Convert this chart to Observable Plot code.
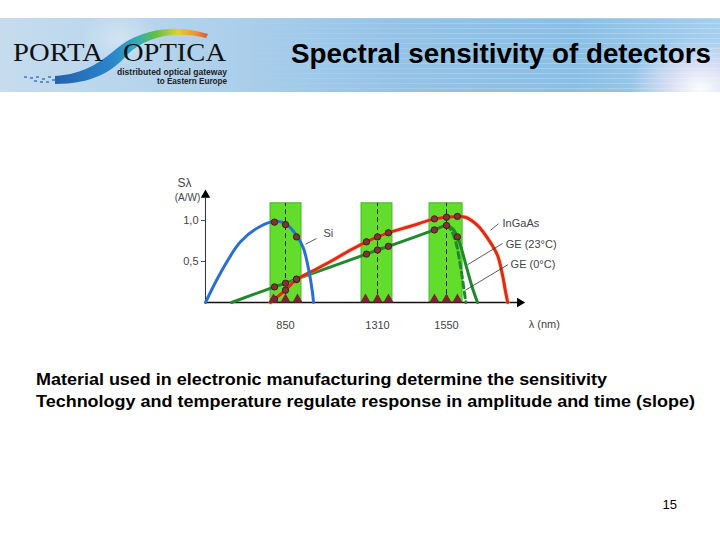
<!DOCTYPE html>
<html>
<head>
<meta charset="utf-8">
<script src="https://cdn.jsdelivr.net/npm/d3@7"></script>
<script src="https://cdn.jsdelivr.net/npm/@observablehq/plot@0.6"></script>
<style>
  html, body { margin: 0; padding: 0; background: #ffffff; }
  #slide { position: relative; width: 720px; height: 540px; overflow: hidden; background: #fff; }
  #header { position: absolute; left: 0; top: 18px; width: 720px; height: 74px;
    background: linear-gradient(to right, #c6dcee 0%, #aed0eb 30%, #94c3e7 55%, #8abfe5 80%, #a6cfee 100%); }
  #stripes { position: absolute; left: 0; top: 0; width: 720px; height: 74px;
    background: repeating-linear-gradient(to bottom, rgba(255,255,255,0.22) 0px, rgba(255,255,255,0.22) 1px, rgba(255,255,255,0) 1px, rgba(255,255,255,0) 5px);
    -webkit-mask-image: linear-gradient(to right, rgba(0,0,0,0) 30%, rgba(0,0,0,1) 70%);
    mask-image: linear-gradient(to right, rgba(0,0,0,0) 30%, rgba(0,0,0,1) 70%); }
  #glare { position: absolute; left: 0; top: 0; width: 720px; height: 74px;
    background: radial-gradient(ellipse 70px 50px at 700px 70px, rgba(255,255,255,0.95) 0%, rgba(255,235,248,0.6) 45%, rgba(255,255,255,0) 100%),
                radial-gradient(ellipse 40px 30px at 120px 20px, rgba(255,255,255,0.35) 0%, rgba(255,255,255,0) 100%); }
  #overlay { position: absolute; left: 0; top: 0; }
  #chart { position: absolute; left: 0; top: 160px; }
</style>
</head>
<body>
<div id="slide">
  <div id="header"><div id="stripes"></div><div id="glare"></div></div>
  <svg id="overlay" width="720" height="540" xmlns="http://www.w3.org/2000/svg">
    <defs>
      <linearGradient id="swoosh" gradientUnits="userSpaceOnUse" x1="50" y1="0" x2="210" y2="0">
        <stop offset="0" stop-color="#1a58a6"/>
        <stop offset="0.4" stop-color="#2283cc"/>
        <stop offset="0.55" stop-color="#2fa9b0"/>
        <stop offset="0.66" stop-color="#5dbf3c"/>
        <stop offset="0.8" stop-color="#e2d21e"/>
        <stop offset="0.91" stop-color="#f0902a"/>
        <stop offset="1" stop-color="#d9442c"/>
      </linearGradient>
    </defs>
    <path d="M 55 76 C 85 74, 100 62, 115 50 C 135 32, 170 22, 208 34 L 206 38 C 172 30, 145 38, 128 54 C 112 72, 92 84, 55 84 Z" fill="url(#swoosh)" opacity="0.95"/>
    <g fill="#3f78c0" opacity="0.75">
      <rect x="24" y="76" width="3" height="2"/><rect x="30" y="77" width="3" height="2"/><rect x="36" y="76" width="3" height="2"/>
      <rect x="42" y="78" width="3" height="2"/><rect x="48" y="76" width="3" height="2"/><rect x="52" y="79" width="3" height="2"/>
      <rect x="40" y="81" width="3" height="2"/><rect x="46" y="81" width="3" height="2"/><rect x="34" y="80" width="3" height="2"/>
    </g>
    <text x="13" y="61" font-family="Liberation Serif, DejaVu Serif, serif" font-size="26" fill="#111" textLength="90" lengthAdjust="spacingAndGlyphs">PORTA</text>
    <text x="123" y="61" font-family="Liberation Serif, DejaVu Serif, serif" font-size="26" fill="#111" textLength="103" lengthAdjust="spacingAndGlyphs">OPTICA</text>
    <text x="227" y="75" text-anchor="end" font-family="Liberation Sans, Arial, sans-serif" font-weight="bold" font-size="8.5" fill="#222" textLength="110" lengthAdjust="spacingAndGlyphs">distributed optical gateway</text>
    <text x="227" y="84" text-anchor="end" font-family="Liberation Sans, Arial, sans-serif" font-weight="bold" font-size="8.5" fill="#222" textLength="70" lengthAdjust="spacingAndGlyphs">to Eastern Europe</text>
    <text x="711" y="63" text-anchor="end" font-family="Liberation Sans, Arial, sans-serif" font-weight="bold" font-size="27" fill="#000" textLength="420" lengthAdjust="spacingAndGlyphs">Spectral sensitivity of detectors</text>
    <text x="36" y="385" font-family="Liberation Sans, Arial, sans-serif" font-weight="bold" font-size="17" fill="#000" textLength="571" lengthAdjust="spacingAndGlyphs">Material used in electronic manufacturing determine the sensitivity</text>
    <text x="36" y="407" font-family="Liberation Sans, Arial, sans-serif" font-weight="bold" font-size="17" fill="#000" textLength="659" lengthAdjust="spacingAndGlyphs">Technology and temperature regulate response in amplitude and time (slope)</text>
    <text x="677" y="509" text-anchor="end" font-family="Liberation Sans, Arial, sans-serif" font-size="13" fill="#000">15</text>
  </svg>
  <div id="chart"></div>
</div>
<script>
// ---- data ----
const xTicks = [850, 1310, 1550];
const xTickLabels = ["850", "1310", "1550"];
const yTicks = [0.5, 1.0];
const yTickLabels = ["0,5", "1,0"];

const bandLo = [775, 1230, 1491];
const bandHi = [930, 1362, 1606];
const bandTop = [1.21, 1.21, 1.21];

const siWl = [450, 525, 625, 725, 800, 850, 905, 940, 965, 985, 990];
const siS  = [0, 0.36, 0.74, 0.93, 0.99, 0.96, 0.82, 0.66, 0.41, 0.12, 0];

const ingaasWl = [775, 795, 850, 905, 975, 1075, 1175, 1255, 1310, 1348, 1425, 1508, 1550, 1588, 1616, 1658, 1703, 1728, 1745, 1756, 1763];
const ingaasS  = [0, 0.04, 0.15, 0.28, 0.37, 0.50, 0.64, 0.74, 0.80, 0.85, 0.93, 1.02, 1.04, 1.05, 1.04, 0.94, 0.73, 0.57, 0.33, 0.12, 0];

const ge23Wl = [580, 795, 850, 905, 1255, 1310, 1348, 1508, 1550, 1571, 1588, 1605, 1622, 1640, 1658];
const ge23S  = [0, 0.19, 0.235, 0.285, 0.59, 0.64, 0.685, 0.885, 0.94, 0.90, 0.80, 0.62, 0.40, 0.18, 0];

const ge0Wl = [1550, 1560, 1572, 1585, 1595, 1605, 1614, 1617];
const ge0S  = [0.94, 0.91, 0.84, 0.70, 0.52, 0.30, 0.08, 0];

const markWl = [795, 850, 905, 795, 850, 905, 795, 850, 905, 1255, 1310, 1348, 1255, 1310, 1348, 1508, 1550, 1588, 1508, 1550, 1588];
const markS  = [0.98, 0.95, 0.80, 0.04, 0.15, 0.28, 0.19, 0.235, 0.285, 0.74, 0.80, 0.85, 0.59, 0.64, 0.685, 1.02, 1.04, 1.05, 0.885, 0.94, 0.80];

const triWl = [790, 850, 910, 1250, 1310, 1348, 1508, 1550, 1588];

const labelText = ["Si", "InGaAs", "GE (23°C)", "GE (0°C)"];
const labelWl   = [1040, 1745, 1756, 1773];
const labelS    = [0.84, 0.96, 0.71, 0.46];
const leadX1 = [950, 1703, 1623, 1616];
const leadY1 = [0.71, 0.88, 0.46, 0.15];
const leadX2 = [1005, 1731, 1745, 1763];
const leadY2 = [0.78, 0.96, 0.72, 0.46];

const axisLabelY = ["Sλ", "(A/W)"];
const axisLabelX = "λ (nm)";

// ---- build tables ----
const zip = (xs, ys) => xs.map((x, i) => ({x, y: ys[i]}));
const bands = bandLo.map((lo, i) => ({lo, hi: bandHi[i], top: bandTop[i]}));
const si = zip(siWl, siS);
const ingaas = zip(ingaasWl, ingaasS);
const ge23 = zip(ge23Wl, ge23S);
const ge0 = zip(ge0Wl, ge0S);
const marks = zip(markWl, markS);
const labels = labelText.map((t, i) => ({t, x: labelWl[i], y: labelS[i]}));
const leaders = leadX1.map((x1, i) => ({x1, y1: leadY1[i], x2: leadX2[i], y2: leadY2[i]}));
const xt = xTicks.map((x, i) => ({x, t: xTickLabels[i]}));
const yt = yTicks.map((y, i) => ({y, t: yTickLabels[i]}));

const chart = Plot.plot({
  width: 720,
  height: 190,
  style: {fontFamily: "Liberation Sans, Arial, sans-serif", fontSize: "11px", background: "transparent", overflow: "visible", color: "#333"},
  x: {type: "linear", domain: [450, 850, 1310, 1550, 1850], range: [205, 285, 377, 446, 532.25], axis: null},
  y: {domain: [0, 1], range: [142, 60], axis: null},
  marks: [
    Plot.rect(bands, {x1: "lo", x2: "hi", y1: 0, y2: "top", fill: "#62dd2c", stroke: "#46b826", strokeWidth: 1}),
    Plot.ruleX(xTicks, {y1: 0, y2: bandTop[0], stroke: "#1a1a1a", strokeWidth: 1, strokeDasharray: "5,3"}),
    // axes
    Plot.ruleY([0], {x1: 450, x2: 1800, stroke: "#111", strokeWidth: 1.3}),
    Plot.ruleX([450], {y1: 0, y2: 1.28, stroke: "#333", strokeWidth: 1}),
    Plot.dot([{x: 450, y: 1.311}], {x: "x", y: "y", symbol: "triangle", r: 3.5, fill: "#000", stroke: "none"}),
    Plot.dot([{x: 1805, y: 0}], {x: "x", y: "y", symbol: "triangle", r: 3.5, rotate: 90, fill: "#000", stroke: "none"}),
    Plot.ruleY(yTicks, {x1: 430, x2: 450, stroke: "#555", strokeWidth: 1}),
    Plot.text(yt, {x: 450, y: "y", text: "t", textAnchor: "end", dx: -7, fill: "#444", fontSize: 11}),
    Plot.text(xt, {x: "x", y: 0, text: "t", dy: 23, fill: "#444", fontSize: 11}),
    Plot.text([axisLabelY[0]], {x: 450, y: 1.45, text: d => d, dx: -21, fill: "#444", fontSize: 12}),
    Plot.text([axisLabelY[1]], {x: 450, y: 1.28, text: d => d, dx: -18, fill: "#444", fontSize: 10}),
    Plot.text([axisLabelX], {x: 1836, y: 0, text: d => d, dy: 22, textAnchor: "start", fill: "#444", fontSize: 11}),
    // curves
    Plot.line(ge23, {x: "x", y: "y", stroke: "#1f8a2d", strokeWidth: 3, curve: "catmull-rom"}),
    Plot.line(ge0, {x: "x", y: "y", stroke: "#1f8a2d", strokeWidth: 3, strokeDasharray: "6,4", curve: "catmull-rom"}),
    Plot.line(ingaas, {x: "x", y: "y", stroke: "#f3b23a", strokeWidth: 4.5, strokeOpacity: 0.45, curve: "catmull-rom"}),
    Plot.line(ingaas, {x: "x", y: "y", stroke: "#e3271c", strokeWidth: 3, curve: "catmull-rom"}),
    Plot.line(si, {x: "x", y: "y", stroke: "#2a6ed6", strokeWidth: 3, curve: "catmull-rom"}),
    // markers
    Plot.dot(marks, {x: "x", y: "y", r: 3.2, fill: "#7d3535", stroke: "#3e1010", strokeWidth: 0.8}),
    Plot.dot(triWl, {x: d => d, y: 0, symbol: "triangle", r: 3.8, dy: -3, fill: "#7a2434", stroke: "none"}),
    // annotations
    Plot.link(leaders, {x1: "x1", y1: "y1", x2: "x2", y2: "y2", stroke: "#333", strokeWidth: 0.8}),
    Plot.text(labels, {x: "x", y: "y", text: "t", textAnchor: "start", fill: "#444", fontSize: 11})
  ]
});
document.getElementById("chart").appendChild(chart);
</script>
</body>
</html>
